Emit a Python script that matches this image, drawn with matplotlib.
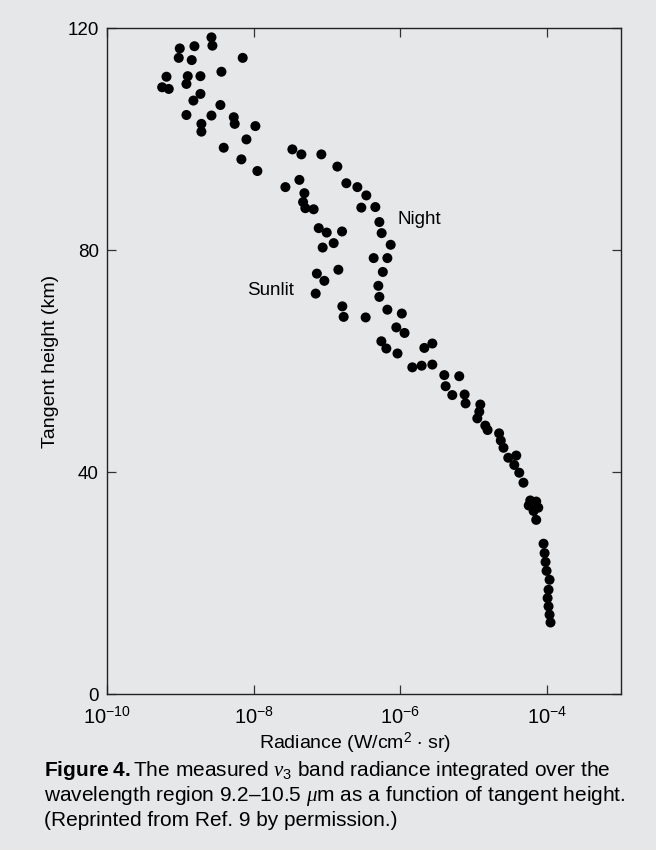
import numpy as np
import matplotlib
matplotlib.use('Agg')
import matplotlib.pyplot as plt
from matplotlib.ticker import FixedLocator, FuncFormatter

plt.rcParams['font.family'] = ['Liberation Sans', 'DejaVu Sans']
plt.rcParams['mathtext.fontset'] = 'custom'
plt.rcParams['mathtext.rm'] = 'Liberation Sans'
plt.rcParams['mathtext.bf'] = 'Liberation Sans:bold'
plt.rcParams['mathtext.it'] = 'Liberation Serif:italic'

# 読み取った値: log10(放射輝度) と 接線高度 (km)
log_radiance = [
    -8.576, -8.563, -9.008, -8.808, -9.022, -8.845, -8.150, -8.440, -9.189, -8.899,
    -8.726, -8.917, -9.248, -9.158, -8.726, -8.822, -8.454, -8.917, -8.576, -8.272,
    -8.259, -8.713, -8.713, -7.977, -8.099, -8.409, -8.168, -7.950,
    -7.473, -7.350, -7.078, -6.860, -7.377, -7.568, -6.737, -6.587, -6.465, -7.309,
    -7.327, -7.296, -7.183, -6.533, -6.342, -6.287, -6.256, -6.133, -7.114, -7.005,
    -6.796, -6.910, -7.060, -6.365, -6.178, -6.846, -7.139, -6.240,
    -7.037, -7.155, -6.301, -6.287, -6.792, -6.774, -6.474, -6.178, -5.981, -6.056,
    -5.944, -6.260, -6.192, -6.040, -5.838,
    -5.674, -5.565, -5.711, -5.565, -5.402, -5.198, -5.384, -5.293, -5.125, -5.112,
    -4.911, -4.925, -4.952, -4.843, -4.812, -4.655, -4.632, -4.595, -4.530, -4.421,
    -4.448, -4.380, -4.323, -4.230, -4.149, -4.251, -4.121, -4.185, -4.149,
    -4.049, -4.035, -4.022, -4.008, -3.967, -3.981, -3.994, -3.981, -3.967, -3.954,
]
height_km = [
    118.4, 116.9, 116.4, 116.8, 114.7, 114.3, 114.7, 112.2, 111.3, 111.4,
    111.4, 110.0, 109.4, 109.1, 108.2, 107.0, 106.2, 104.4, 104.3, 104.0,
    102.8, 102.8, 101.4, 102.4, 100.0, 98.5, 96.4, 94.3,
    98.2, 97.3, 97.3, 95.1, 92.7, 91.4, 92.1, 91.4, 89.9, 90.3,
    88.7, 87.6, 87.4, 87.7, 87.8, 85.1, 83.1, 81.0, 84.0, 83.2,
    83.4, 81.3, 80.5, 78.6, 78.6, 76.5, 75.8, 76.1,
    74.5, 72.2, 73.6, 71.6, 69.9, 68.0, 67.9, 69.3, 68.6, 66.1,
    65.1, 63.6, 62.3, 61.4, 58.9,
    62.4, 63.2, 59.2, 59.4, 57.5, 57.3, 55.5, 53.9, 54.0, 52.4,
    52.2, 50.9, 49.7, 48.4, 47.6, 47.0, 45.7, 44.4, 42.6, 43.0,
    41.3, 39.9, 38.1, 34.9, 34.7, 34.0, 33.6, 33.0, 31.4,
    27.1, 25.4, 23.8, 22.2, 20.6, 18.8, 17.3, 15.8, 14.3, 12.9,
]
x_ticks = [1e-10, 1e-8, 1e-6, 1e-4]
y_ticks = [0, 40, 80, 120]

radiance = 10.0 ** np.array(log_radiance)

bg = '#e6e7e9'
fig = plt.figure(figsize=(6.56, 8.5), dpi=100, facecolor=bg)
ax = fig.add_axes([0.1631, 0.1835, 0.7828, 0.783])
ax.set_facecolor(bg)

ax.scatter(radiance, height_km, s=52, c='black', edgecolors='none', zorder=3)

ax.set_xscale('log')
ax.set_xlim(1e-10, 1e-3)
ax.set_ylim(0, 120)
ax.xaxis.set_major_locator(FixedLocator(x_ticks))
ax.xaxis.set_minor_locator(FixedLocator([]))
ax.xaxis.set_major_formatter(FuncFormatter(lambda v, p: r'$10^{%d}$' % round(np.log10(v))))
ax.yaxis.set_major_locator(FixedLocator(y_ticks))

for s in ax.spines.values():
    s.set_color('#222222')
    s.set_linewidth(1.0)

ax.tick_params(axis='both', which='major', direction='in', length=6.5, width=0.9,
               color='#333333', labelsize=13.5, top=True, right=True, pad=6)
ax.tick_params(axis='x', labelsize=14.5, pad=9)

ax.set_xlabel(r'Radiance (W/cm$^2$ $\bullet$ sr)', fontsize=14, labelpad=5)
ax.set_ylabel('Tangent height (km)', fontsize=14, labelpad=6)
ax.xaxis.set_label_coords(0.483, -0.055)

ax.text(10 ** -6.04, 85.6, 'Night', fontsize=13.5, va='center', ha='left')
ax.text(10 ** -8.09, 72.8, 'Sunlit', fontsize=13.5, va='center', ha='left')

cap_x = 44 / 656
fig.text(cap_x, 1 - 770 / 850,
         r'$\mathbf{Figure\ 4.}$The measured $\nu_3$ band radiance integrated over the',
         fontsize=15, va='center', ha='left')
fig.text(cap_x, 1 - 796 / 850,
         r'wavelength region 9.2–10.5 $\mu$m as a function of tangent height.',
         fontsize=15, va='center', ha='left')
fig.text(cap_x, 1 - 821 / 850, '(Reprinted from Ref. 9 by permission.)',
         fontsize=15, va='center', ha='left')

fig.savefig('out.png', dpi=100, facecolor=bg)
